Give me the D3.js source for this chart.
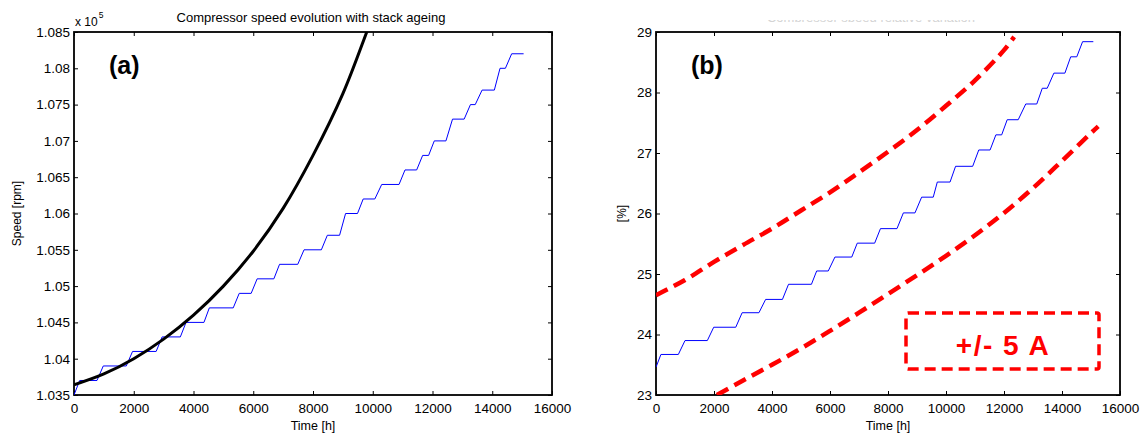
<!DOCTYPE html>
<html>
<head>
<meta charset="utf-8">
<script src="https://cdn.jsdelivr.net/npm/d3@7"></script>
<style>
body { margin: 0; background: #fff; }
text { font-family: "Liberation Sans", Arial, sans-serif; }
</style>
</head>
<body>
<svg id="chart" width="1140" height="434"></svg>
<script>
// tick values
var timeTicks = [0, 2000, 4000, 6000, 8000, 10000, 12000, 14000, 16000];
var speedTicks = [1.035, 1.04, 1.045, 1.05, 1.055, 1.06, 1.065, 1.07, 1.075, 1.08, 1.085];
var pctTicks = [23, 24, 25, 26, 27, 28, 29];

// (a) model speed curve, x 10^5 rpm
var modelTime = [0, 1000, 2000, 3000, 4000, 5000, 6000, 7000, 8000, 9000, 9800, 10000];
var modelSpeed = [1.0364, 1.0379, 1.0400, 1.0427, 1.0460, 1.0500, 1.0548, 1.0607, 1.0680, 1.0765, 1.0850, 1.0872];

// (a) stepped speed
var stepTime = [0, 190, 770, 980, 1750, 1960, 2750, 2950, 3560, 3750, 4350, 4530, 5330, 5530, 5930, 6130,
    6690, 6880, 7490, 7700, 8280, 8480, 8890, 9090, 9490, 9680, 10070, 10300, 10880, 11080, 11470, 11670,
    11870, 12060, 12450, 12670, 13060, 13270, 13430, 13660, 14070, 14260, 14440, 14650, 15050];
var stepSpeed = [1.035, 1.037, 1.037, 1.039, 1.039, 1.041, 1.041, 1.043, 1.043, 1.045, 1.045, 1.047, 1.047, 1.049, 1.049, 1.051,
    1.051, 1.053, 1.053, 1.055, 1.055, 1.057, 1.057, 1.060, 1.060, 1.062, 1.062, 1.064, 1.064, 1.066, 1.066, 1.068,
    1.068, 1.070, 1.070, 1.073, 1.073, 1.075, 1.075, 1.077, 1.077, 1.080, 1.080, 1.082, 1.082];

// (b) stepped percentage
var pctTime = [0, 170, 770, 1000, 1770, 1990, 2750, 2970, 3550, 3780, 4360, 4570, 5360, 5540, 5940, 6170,
    6750, 6940, 7540, 7740, 8310, 8530, 8930, 9160, 9560, 9700, 10140, 10330, 10920, 11130, 11520, 11720,
    11920, 12110, 12490, 12750, 13130, 13320, 13490, 13720, 14100, 14300, 14510, 14710, 15080];
var pctValue = [23.46, 23.67, 23.67, 23.90, 23.90, 24.12, 24.12, 24.36, 24.36, 24.58, 24.58, 24.83, 24.83, 25.05, 25.05, 25.28,
    25.28, 25.51, 25.51, 25.75, 25.75, 26.01, 26.01, 26.27, 26.27, 26.52, 26.52, 26.78, 26.78, 27.05, 27.05, 27.30,
    27.30, 27.55, 27.55, 27.81, 27.81, 28.07, 28.07, 28.32, 28.32, 28.59, 28.59, 28.84, 28.84];

// (b) +/- 5 A bounds
var upperTime = [0, 1000, 2000, 3000, 4000, 5000, 6000, 7000, 8000, 9000, 10000, 11000, 12000, 12350];
var upperPct = [24.65, 24.9, 25.2, 25.48, 25.75, 26.05, 26.35, 26.68, 27.02, 27.38, 27.78, 28.2, 28.7, 28.92];
var lowerTime = [2100, 3000, 4000, 5000, 6000, 7000, 8000, 9000, 10000, 11000, 12000, 13000, 14000, 15000, 15250];
var lowerPct = [23.0, 23.24, 23.5, 23.77, 24.06, 24.36, 24.67, 24.98, 25.3, 25.64, 26.01, 26.42, 26.87, 27.33, 27.44];

var svg = d3.select("#chart");

function zip(xs, ys) {
    return xs.map(function (x, i) { return [x, ys[i]]; });
}

// draws a boxed matlab-style axes, returns scales and plot group
function makePanel(id, left, right, top, bottom, yDomain, yTicks, yFmt, yLabel, yLabelX) {
    var x = d3.scaleLinear().domain([0, 16000]).range([left, right]);
    var y = d3.scaleLinear().domain(yDomain).range([bottom, top]);

    svg.append("clipPath").attr("id", "clip-" + id)
        .append("rect").attr("x", left).attr("y", top)
        .attr("width", right - left).attr("height", bottom - top);

    var g = svg.append("g");

    var bx = g.append("g").attr("transform", "translate(0," + bottom + ")")
        .call(d3.axisBottom(x).tickValues(timeTicks).tickSizeInner(-4).tickSizeOuter(0).tickPadding(8).tickFormat(d3.format("d")));
    var ly = g.append("g").attr("transform", "translate(" + left + ",0)")
        .call(d3.axisLeft(y).tickValues(yTicks).tickSizeInner(-4).tickSizeOuter(0).tickPadding(4).tickFormat(yFmt));
    var tx = g.append("g").attr("transform", "translate(0," + top + ")")
        .call(d3.axisTop(x).tickValues(timeTicks).tickSizeInner(-4).tickSizeOuter(0).tickFormat(""));
    var ry = g.append("g").attr("transform", "translate(" + right + ",0)")
        .call(d3.axisRight(y).tickValues(yTicks).tickSizeInner(-4).tickSizeOuter(0).tickFormat(""));

    [bx, ly, tx, ry].forEach(function (a) {
        a.select(".domain").remove();
        a.selectAll("line").attr("stroke", "#000").attr("stroke-width", 1);
        a.selectAll("text").attr("font-size", 13.5).attr("fill", "#000")
            .attr("font-family", "'Liberation Sans', Arial, sans-serif");
    });

    g.append("rect").attr("x", left).attr("y", top)
        .attr("width", right - left).attr("height", bottom - top)
        .attr("fill", "none").attr("stroke", "#000").attr("stroke-width", 1.8);

    g.append("text").attr("x", (left + right) / 2).attr("y", 430)
        .attr("text-anchor", "middle").attr("font-size", 12.5).text("Time [h]");

    g.append("text").attr("transform", "translate(" + yLabelX + "," + ((top + bottom) / 2) + ") rotate(-90)")
        .attr("text-anchor", "middle").attr("font-size", 12).text(yLabel);

    var plot = svg.append("g").attr("clip-path", "url(#clip-" + id + ")");
    return { x: x, y: y, plot: plot };
}

// ---------- panel (a) ----------
var a = makePanel("a", 74, 552, 32, 395, [1.035, 1.085], speedTicks,
    function (d) { return String(+d.toFixed(3)); }, "Speed [rpm]", 21);

svg.append("text").attr("x", 311).attr("y", 22).attr("text-anchor", "middle")
    .attr("font-size", 13).text("Compressor speed evolution with stack ageing");

var mult = svg.append("text").attr("x", 75).attr("y", 26).attr("font-size", 12);
mult.append("tspan").text("x 10");
mult.append("tspan").attr("dy", -8).attr("dx", 1).attr("font-size", 8.5).text("5");

var lineA = d3.line().x(function (d) { return a.x(d[0]); }).y(function (d) { return a.y(d[1]); });

a.plot.append("path").datum(zip(stepTime, stepSpeed))
    .attr("d", lineA).attr("fill", "none").attr("stroke", "#0000ff").attr("stroke-width", 1);

a.plot.append("path").datum(zip(modelTime, modelSpeed))
    .attr("d", lineA.curve(d3.curveCatmullRom)).attr("fill", "none")
    .attr("stroke", "#000").attr("stroke-width", 3);

svg.append("text").attr("x", 109).attr("y", 74).attr("font-size", 25).attr("font-weight", "bold").text("(a)");

// ---------- panel (b) ----------
var b = makePanel("b", 656, 1120, 32, 395, [23, 29], pctTicks,
    d3.format("d"), "[%]", 626);

// faint, cut-off title of the second panel
svg.append("clipPath").attr("id", "clip-title")
    .append("rect").attr("x", 650).attr("y", 20).attr("width", 480).attr("height", 2);
svg.append("text").attr("x", 871).attr("y", 22).attr("text-anchor", "middle")
    .attr("font-size", 13).attr("fill", "#d4d4d4").attr("clip-path", "url(#clip-title)")
    .text("Compressor speed relative variation");

var lineB = d3.line().x(function (d) { return b.x(d[0]); }).y(function (d) { return b.y(d[1]); });

b.plot.append("path").datum(zip(pctTime, pctValue))
    .attr("d", lineB).attr("fill", "none").attr("stroke", "#0000ff").attr("stroke-width", 1);

var curveB = d3.line().curve(d3.curveCatmullRom)
    .x(function (d) { return b.x(d[0]); }).y(function (d) { return b.y(d[1]); });

[zip(upperTime, upperPct), zip(lowerTime, lowerPct)].forEach(function (pts) {
    b.plot.append("path").datum(pts).attr("d", curveB)
        .attr("fill", "none").attr("stroke", "#ff0000").attr("stroke-width", 4.5)
        .attr("stroke-dasharray", "13,7");
});

svg.append("text").attr("x", 691).attr("y", 74).attr("font-size", 25).attr("font-weight", "bold").text("(b)");

// +/- 5 A box
svg.append("rect").attr("x", 906).attr("y", 313).attr("width", 193).attr("height", 56).attr("rx", 2)
    .attr("fill", "none").attr("stroke", "#ff0000").attr("stroke-width", 3.5)
    .attr("stroke-dasharray", "11,6");
svg.append("text").attr("x", 1003).attr("y", 355).attr("text-anchor", "middle")
    .attr("font-size", 28).attr("font-weight", "bold").attr("letter-spacing", 1.5)
    .attr("fill", "#ff0000").text("+/- 5 A");
</script>
</body>
</html>
